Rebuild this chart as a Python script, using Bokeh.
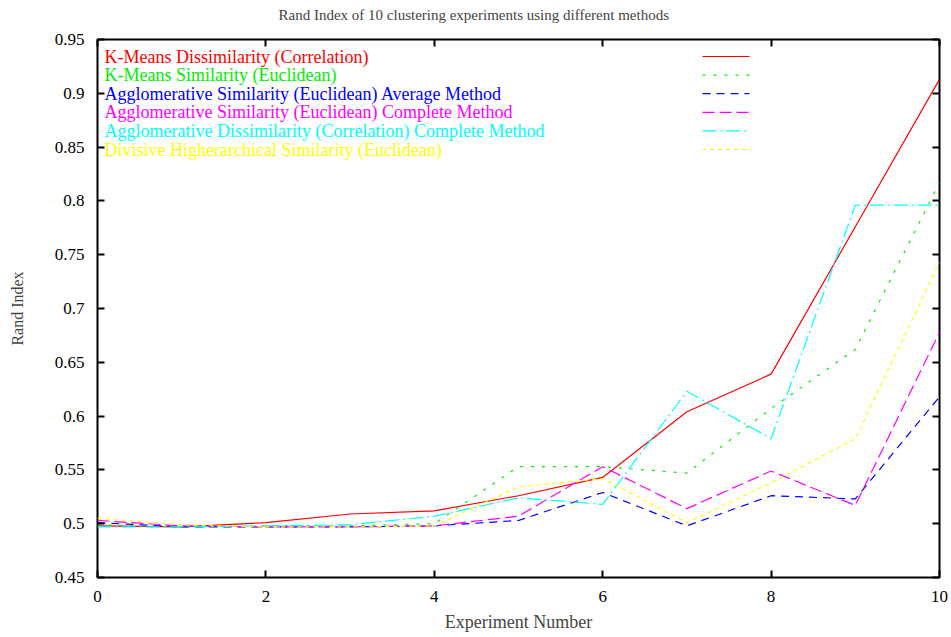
from bokeh.plotting import figure
from bokeh.models import LinearAxis, FixedTicker, CustomJSTickFormatter, Range1d, Label
from bokeh.embed import file_html
from bokeh.resources import INLINE

# Experiment numbers and Rand index per clustering method
experiments = [0, 1, 2, 3, 4, 5, 6, 7, 8, 9, 10]
kmeans_dissim_corr = [0.498, 0.497, 0.501, 0.509, 0.512, 0.526, 0.543, 0.604, 0.639, 0.776, 0.913]
kmeans_sim_eucl = [0.499, 0.497, 0.498, 0.498, 0.500, 0.553, 0.553, 0.547, 0.607, 0.662, 0.817]
agglo_sim_eucl_avg = [0.501, 0.497, 0.497, 0.497, 0.498, 0.503, 0.529, 0.498, 0.526, 0.523, 0.618]
agglo_sim_eucl_complete = [0.503, 0.498, 0.497, 0.497, 0.498, 0.507, 0.553, 0.514, 0.549, 0.517, 0.678]
agglo_dissim_corr_complete = [0.497, 0.497, 0.498, 0.499, 0.507, 0.524, 0.518, 0.623, 0.579, 0.796, 0.796]
divisive_sim_eucl = [0.505, 0.499, 0.497, 0.497, 0.498, 0.534, 0.542, 0.501, 0.538, 0.579, 0.743]

series_names = [
    "K-Means Dissimilarity (Correlation)",
    "K-Means Similarity (Euclidean)",
    "Agglomerative Similarity (Euclidean) Average Method",
    "Agglomerative Similarity (Euclidean) Complete Method",
    "Agglomerative Dissimilarity (Correlation) Complete Method",
    "Divisive Higherarchical Similarity (Euclidean)",
]
series_values = [kmeans_dissim_corr, kmeans_sim_eucl, agglo_sim_eucl_avg,
                 agglo_sim_eucl_complete, agglo_dissim_corr_complete, divisive_sim_eucl]
series_colors = ["#ff0000", "#00ee00", "#0000ff", "#ff00ff", "#00ffff", "#ffff00"]
series_dashes = ["solid", "3 8", "8 6", "12 5", "14 4 2 4", "4 4"]

x_ticks = [0, 2, 4, 6, 8, 10]
y_ticks = [0.45, 0.5, 0.55, 0.6, 0.65, 0.7, 0.75, 0.8, 0.85, 0.9, 0.95]

chart_title = "Rand Index of 10 clustering experiments using different methods"

FONT = "Liberation Serif"
W, H = 951, 637
LEFT, RIGHT, TOP, BOTTOM = 97, 12, 39, 60
X0, X1 = 0, 10
Y0, Y1 = 0.45, 0.95
FRAME_W = W - LEFT - RIGHT
FRAME_H = H - TOP - BOTTOM

p = figure(width=W, height=H, output_backend="svg", toolbar_location=None,
           x_range=Range1d(X0, X1), y_range=Range1d(Y0, Y1),
           min_border_left=LEFT, min_border_right=RIGHT,
           min_border_top=TOP, min_border_bottom=BOTTOM,
           x_axis_label="Experiment Number", y_axis_label="Rand Index")
p.xgrid.visible = False
p.ygrid.visible = False
p.background_fill_color = "white"
p.border_fill_color = "white"
p.outline_line_color = "black"
p.outline_line_width = 2

# title roughly centred over the whole canvas
p.title.text = chart_title
p.title.align = "left"
p.title.offset = 181
p.title.text_font = FONT
p.title.text_font_size = "15px"
p.title.text_font_style = "normal"
p.title.standoff = 4

label_fmt = CustomJSTickFormatter(code="return String(Math.round(tick * 100) / 100);")
blank_fmt = CustomJSTickFormatter(code="return '';")
# non-breaking space: invisible, but still reserves a line of height
spacer_fmt = CustomJSTickFormatter(code="return '\\u00a0';")


def style_axis(ax, ticks, fmt, label_size="17px"):
    ax.ticker = FixedTicker(ticks=ticks)
    ax.formatter = fmt
    ax.axis_line_color = None
    ax.major_tick_in = 7
    ax.major_tick_out = 0
    ax.major_tick_line_width = 2
    ax.minor_tick_line_color = None
    ax.major_label_text_font = FONT
    ax.major_label_text_font_size = label_size
    ax.major_label_text_color = "black"
    ax.axis_label_text_font = FONT
    ax.axis_label_text_font_style = "normal"


style_axis(p.xaxis[0], x_ticks, label_fmt)
p.xaxis[0].major_label_standoff = 13
p.xaxis[0].axis_label_standoff = 7
p.xaxis[0].axis_label_text_font_size = "18px"
style_axis(p.yaxis[0], y_ticks, label_fmt)
p.yaxis[0].major_label_standoff = 13
p.yaxis[0].axis_label_standoff = 26
p.yaxis[0].axis_label_text_font_size = "16px"

# mirrored ticks on the top and right edges; the top one also spaces the title
top_axis = LinearAxis()
style_axis(top_axis, x_ticks, spacer_fmt, label_size="10px")
top_axis.major_label_standoff = 1
p.add_layout(top_axis, "above")
right_axis = LinearAxis()
style_axis(right_axis, y_ticks, blank_fmt, label_size="1px")
right_axis.major_label_standoff = 0
p.add_layout(right_axis, "right")

for vals, color, dash in zip(series_values, series_colors, series_dashes):
    p.line(experiments, vals, line_color=color, line_width=1.2, line_dash=dash)


def to_data_x(px):
    return X0 + (px - LEFT) / FRAME_W * (X1 - X0)


def to_data_y(py):
    return Y1 - (py - TOP) / FRAME_H * (Y1 - Y0)


# key in the upper-left corner: coloured names with a line sample on the right
KEY_TEXT_X = 104
KEY_SAMPLE_X0, KEY_SAMPLE_X1 = 702, 749
KEY_ROW0, KEY_ROW_STEP = 56, 18.6

for i, (name, color, dash) in enumerate(zip(series_names, series_colors, series_dashes)):
    row_y = to_data_y(KEY_ROW0 + i * KEY_ROW_STEP)
    p.add_layout(Label(x=to_data_x(KEY_TEXT_X), y=row_y, text=name,
                       text_color=color, text_font=FONT, text_font_size="18px",
                       text_baseline="middle", text_align="left"))
    p.line([to_data_x(KEY_SAMPLE_X0), to_data_x(KEY_SAMPLE_X1)], [row_y, row_y],
           line_color=color, line_width=1.2, line_dash=dash)

open("out.html", "w").write(file_html(p, INLINE))
